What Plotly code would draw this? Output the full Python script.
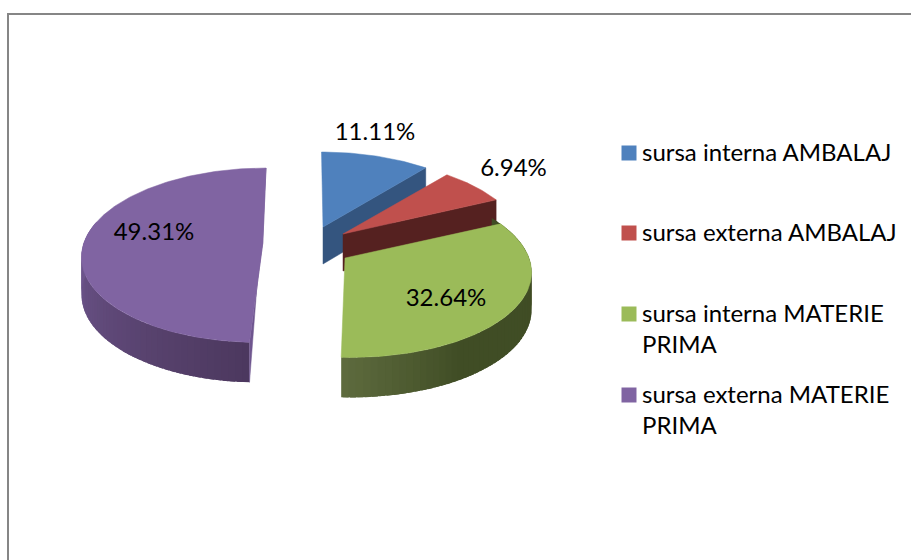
import math
import plotly.graph_objects as go

# ---- data ----
categories = ["sursa interna AMBALAJ", "sursa externa AMBALAJ",
              "sursa interna MATERIE<br>PRIMA", "sursa externa MATERIE<br>PRIMA"]
values = [11.11, 6.94, 32.64, 49.31]

# ---- styles ----
top_colors = ["#4f81bd", "#c0504d", "#9bbb59", "#8064a2"]
face_colors = ["#34557f", "#552120", None, "#6f568f"]
wall_stops = [None, None,
              [(0.0, "#404c24"), (0.72, "#404d25"), (1.0, "#5e6b3e")],
              [(0.0, "#4c385e"), (1.0, "#745b95")]]
FONT = "Lato, Carlito, Calibri, sans-serif"

# ---- pie projection (pixels) ----
B, K, H0 = 85.5, 0.14, 37.0
radii = [179.0, 179.0, 184.0, 179.0]
centers = [(323, 227, 0.02), (343, 234, 0.0), (345, 258, 0.055), (262.8, 243, -0.043)]
label_pos = [(375, 133.5), (513.5, 169.5), (446, 299.5), (154, 233.5)]
legend_y = [153, 233, 314, 395]


def scale(t):
    return 1 / (1 + K * math.cos(math.radians(t)))


def rim(t, c, a, depth=False):
    cx, cy, lean = c
    r = math.radians(t)
    s = scale(t)
    dx, dy = a * math.sin(r) * s, -B * math.cos(r) * s
    y = cy + dy + (H0 * (1 + 0.5 * (s - 1)) if depth else 0)
    return cx + dx + lean * dy, y


def arc(t0, t1, c, a, depth=False):
    n = max(2, int(abs(t1 - t0)) + 2)
    return [rim(t0 + (t1 - t0) * i / (n - 1), c, a, depth) for i in range(n)]


def mix(stops, f):
    for (f0, c0), (f1, c1) in zip(stops, stops[1:]):
        if f <= f1:
            w = (f - f0) / (f1 - f0)
            p = [int(c0[i:i + 2], 16) for i in (1, 3, 5)]
            q = [int(c1[i:i + 2], 16) for i in (1, 3, 5)]
            return "rgb(%d,%d,%d)" % tuple(round(m + (n - m) * w) for m, n in zip(p, q))
    return stops[-1][1]


fig = go.Figure()


def poly(points, color, edge=0.5):
    xs = [p[0] for p in points] + [points[0][0]]
    ys = [p[1] for p in points] + [points[0][1]]
    fig.add_trace(go.Scatter(x=xs, y=ys, mode="lines", fill="toself", fillcolor=color,
                             line=dict(color=color, width=edge), hoverinfo="skip",
                             showlegend=False))


total = sum(values)
start = 0.0
for i, v in enumerate(values):
    end = start + v / total * 360
    c = centers[i]
    a = radii[i]
    tip = (c[0], c[1])
    tip_low = (c[0], c[1] + H0)
    if i in (0, 1):  # cut face at the clockwise end
        poly([tip, rim(end, c, a), rim(end, c, a, True), tip_low], face_colors[i])
    stops = wall_stops[i]
    if stops:
        lo = 60.0 if i == 2 else start
        hi = 285.0 if i == 3 else end
        n = int((hi - lo) / 2.0) + 1
        for j in range(n):
            a0 = lo + (hi - lo) * j / n
            # each band runs under the next one, so no seam shows
            a1 = min(hi, lo + (hi - lo) * (j + 1.8) / n)
            poly(arc(a0, a1, c, a) + arc(a1, a0, c, a, True), mix(stops, (j + 0.5) / n), edge=0)
    if i == 3:  # thin cut face along the straight edge
        poly([rim(end, c, a), rim(start, c, a, True), rim(start, c, a), tip], face_colors[i])
    poly([tip] + arc(start, end, c, a), top_colors[i])
    start = end

# data labels
fig.add_trace(go.Scatter(x=[p[0] for p in label_pos], y=[p[1] for p in label_pos],
                         mode="text", text=["%.2f%%" % v for v in values],
                         textposition="middle center",
                         textfont=dict(family=FONT, size=24, color="#000000"),
                         hoverinfo="skip", showlegend=False))

# legend
fig.add_trace(go.Scatter(x=[629] * 4, y=legend_y, mode="markers",
                         marker=dict(symbol="square", size=15, color=top_colors),
                         hoverinfo="skip", showlegend=False))
annotations = [dict(x=641.5, y=y - 16, xref="x", yref="y", xanchor="left", yanchor="top",
                    align="left", text=name, showarrow=False, borderpad=0, borderwidth=0,
                    font=dict(family=FONT, size=24, color="#000000"))
               for name, y in zip(categories, legend_y)]

fig.update_layout(
    width=911, height=560, margin=dict(l=0, r=0, t=0, b=0),
    paper_bgcolor="white", plot_bgcolor="white", showlegend=False,
    xaxis=dict(range=[0, 911], visible=False, fixedrange=True),
    yaxis=dict(range=[560, 0], visible=False, fixedrange=True),
    annotations=annotations,
    shapes=[dict(type="rect", xref="x", yref="y", x0=8, y0=14, x1=930, y1=590,
                 line=dict(color="#868686", width=2), layer="below")],
)
fig.write_html("out.html", config={"displayModeBar": False},
               post_script="document.body.style.margin='0';document.body.style.overflow='hidden';")
